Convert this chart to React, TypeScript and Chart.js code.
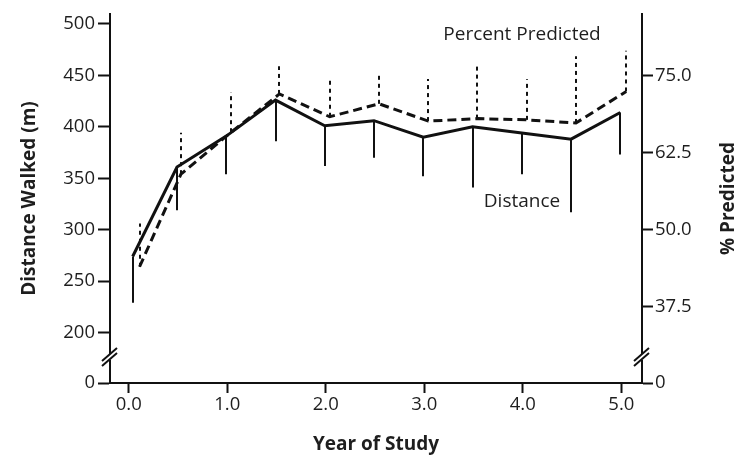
import React, { useEffect, useRef } from 'react';
import { Chart, registerables } from 'chart.js';

Chart.register(...registerables);

// ---- data ----
const distYears = [0.04, 0.49, 0.99, 1.49, 1.99, 2.49, 2.99, 3.49, 3.99, 4.49, 4.99];
const distMean = [274, 361, 391, 426, 401, 406, 390, 400, 394, 388, 414];
const distSD = [45, 42, 37, 40, 39, 36, 38, 59, 40, 71, 41];

const pctYears = [0.11, 0.53, 1.04, 1.53, 2.04, 2.54, 3.04, 3.54, 4.04, 4.54, 5.05];
const pctMean = [44.0, 59.0, 65.8, 72.0, 68.3, 70.4, 67.6, 68.0, 67.8, 67.3, 72.4];
const pctSD = [7.0, 6.7, 6.5, 4.5, 6.5, 4.6, 6.8, 9.1, 6.6, 10.8, 6.6];

const xTicks = [0, 1, 2, 3, 4, 5];
const leftTicks = [200, 250, 300, 350, 400, 450, 500];
const rightTicks = [37.5, 50, 62.5, 75];

const Y_MIN = 151;
const Y_MAX = 509.6;
const M_PER_PCT = 6;

const FONT = "'Open Sans', 'DejaVu Sans', sans-serif";
const TXT = '#1e1e1e';

export default function App() {
  const ref = useRef<HTMLCanvasElement>(null);

  useEffect(() => {
    if (!ref.current) return;

    const errorBars = {
      id: 'errorBars',
      afterDatasetsDraw(chart: any) {
        const { ctx, scales } = chart;
        const { x, y, y1 } = scales;
        ctx.save();
        ctx.strokeStyle = '#111';
        ctx.lineWidth = 2;
        distYears.forEach((yr, i) => {
          const px = Math.round(x.getPixelForValue(yr));
          ctx.beginPath();
          ctx.moveTo(px, y.getPixelForValue(distMean[i]));
          ctx.lineTo(px, y.getPixelForValue(distMean[i] - distSD[i]));
          ctx.stroke();
        });
        ctx.setLineDash([4, 4]);
        pctYears.forEach((yr, i) => {
          const px = Math.round(x.getPixelForValue(yr));
          ctx.beginPath();
          ctx.moveTo(px, y1.getPixelForValue(pctMean[i]));
          ctx.lineTo(px, y1.getPixelForValue(pctMean[i] + pctSD[i]));
          ctx.stroke();
        });
        ctx.restore();
      },
    };

    const decor = {
      id: 'decor',
      afterDraw(chart: any) {
        const { ctx, chartArea } = chart;
        ctx.save();
        // axis breaks
        const cy = 358;
        [chartArea.left, chartArea.right].forEach((ax: number) => {
          ctx.fillStyle = '#fff';
          ctx.fillRect(ax - 2, cy - 4, 4, 6);
          ctx.strokeStyle = '#111';
          ctx.lineWidth = 2;
          ctx.beginPath();
          ctx.moveTo(ax - 8, cy + 3);
          ctx.lineTo(ax + 7, cy - 10);
          ctx.moveTo(ax - 8, cy + 8);
          ctx.lineTo(ax + 7, cy - 5);
          ctx.stroke();
        });
        // right title
        ctx.fillStyle = TXT;
        ctx.font = `bold 19px ${FONT}`;
        ctx.textAlign = 'center';
        ctx.textBaseline = 'middle';
        ctx.translate(729, (chartArea.top + chartArea.bottom) / 2);
        ctx.rotate(-Math.PI / 2);
        ctx.fillText('% Predicted', 0, 0);
        ctx.setTransform(1, 0, 0, 1, 0, 0);
        // annotations
        ctx.font = `19px ${FONT}`;
        ctx.fillText('Percent Predicted', 522, 35);
        ctx.fillText('Distance', 522, 202);
        ctx.restore();
      },
    };

    const tickFont = { family: FONT, size: 18.5 };
    const titleFont = { family: FONT, size: 19, weight: 'bold' as const };

    const chart = new Chart(ref.current, {
      type: 'line',
      data: {
        datasets: [
          {
            label: 'Distance',
            data: distYears.map((yr, i) => ({ x: yr, y: distMean[i] })),
            borderColor: '#111',
            borderWidth: 3,
            pointRadius: 0,
            yAxisID: 'y',
            tension: 0,
          },
          {
            label: 'Percent Predicted',
            data: pctYears.map((yr, i) => ({ x: yr, y: pctMean[i] })),
            borderColor: '#111',
            borderWidth: 3,
            borderDash: [9, 5],
            pointRadius: 0,
            yAxisID: 'y1',
            tension: 0,
          },
        ],
      },
      options: {
        responsive: false,
        animation: false,
        events: [],
        layout: { padding: { top: 10, left: 0, right: 0, bottom: 0 } },
        plugins: { legend: { display: false }, tooltip: { enabled: false } },
        scales: {
          x: {
            type: 'linear',
            min: -0.19,
            max: 5.21,
            afterBuildTicks: (s: any) => {
              s.ticks = xTicks.map((v) => ({ value: v }));
            },
            afterFit: (s: any) => {
              s.height = 85;
            },
            ticks: {
              callback: (v: any) => Number(v).toFixed(1),
              font: tickFont,
              color: TXT,
              padding: 1,
              maxRotation: 0,
            },
            grid: { drawOnChartArea: false, tickLength: 10, tickColor: '#111', tickWidth: 2 },
            border: { color: '#111', width: 2 },
            title: { display: true, text: 'Year of Study', font: titleFont, color: TXT, padding: { top: 0, bottom: 12 } },
          },
          y: {
            type: 'linear',
            position: 'left',
            min: Y_MIN,
            max: Y_MAX,
            afterBuildTicks: (s: any) => {
              s.ticks = [Y_MIN, ...leftTicks].map((v) => ({ value: v }));
            },
            afterFit: (s: any) => {
              s.width = 110;
            },
            ticks: {
              callback: (v: any) => (Number(v) < 190 ? '0' : String(v)),
              font: tickFont,
              color: TXT,
              padding: 3,
            },
            grid: { drawOnChartArea: false, tickLength: 12, tickColor: '#111', tickWidth: 2 },
            border: { color: '#111', width: 2 },
            title: { display: true, text: 'Distance Walked (m)', font: titleFont, color: TXT, padding: { top: 18, bottom: 0 } },
          },
          y1: {
            type: 'linear',
            position: 'right',
            min: Y_MIN / M_PER_PCT,
            max: Y_MAX / M_PER_PCT,
            afterBuildTicks: (s: any) => {
              s.ticks = [Y_MIN / M_PER_PCT, ...rightTicks].map((v) => ({ value: v }));
            },
            afterFit: (s: any) => {
              s.width = 104;
            },
            ticks: {
              callback: (v: any) => (Number(v) < 30 ? '0' : Number(v).toFixed(1)),
              font: tickFont,
              color: TXT,
              padding: 2,
            },
            grid: { drawOnChartArea: false, tickLength: 11, tickColor: '#111', tickWidth: 2 },
            border: { color: '#111', width: 2 },
            title: { display: false },
          },
        },
      },
      plugins: [errorBars, decor],
    });

    return () => chart.destroy();
  }, []);

  return (
    <div style={{ position: 'absolute', left: 0, top: 0, width: 746, height: 468, background: '#fff' }}>
      <canvas ref={ref} width={746} height={468} style={{ width: 746, height: 468 }} />
    </div>
  );
}
